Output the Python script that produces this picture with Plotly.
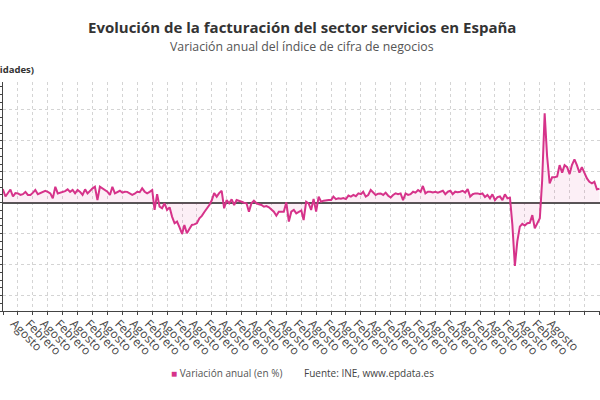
import pandas as pd
import plotly.graph_objects as go

# Annual variation (%) of the services sector turnover index, monthly, Jan 2003 - Feb 2023
v2003 = [7.5, 8.2, 4.0, 6.5, 8.5, 4.0, 6.2, 6.0, 5.0, 5.5, 7.0, 5.0]
v2004 = [5.0, 6.5, 8.2, 5.5, 6.4, 7.3, 7.7, 7.0, 6.0, 2.8, 10.3, 6.0]
v2005 = [6.4, 7.0, 7.5, 8.6, 7.0, 8.2, 6.0, 8.2, 7.0, 5.0, 8.6, 6.0]
v2006 = [8.0, 9.3, 10.3, 1.7, 10.3, 9.3, 8.0, 7.1, 5.0, 10.3, 6.0, 7.0]
v2007 = [7.7, 6.5, 7.1, 7.0, 6.0, 5.0, 5.8, 7.1, 6.8, 9.3, 7.1, 6.0]
v2008 = [7.0, 8.2, -4.7, 5.5, -2.6, -3.6, -0.4, -4.7, -3.0, -9.0, -13.3, -12.2]
v2009 = [-16.0, -20.2, -14.4, -19.7, -17.0, -14.4, -14.0, -13.3, -10.1, -8.5, -6.0, -4.0]
v2010 = [-1.5, 1.7, 6.2, 3.9, 6.2, 7.7, -3.6, 1.7, -0.4, 2.2, -1.5, 1.7]
v2011 = [1.3, 0.6, 0.0, -0.4, -5.8, -0.4, 1.3, -0.4, -1.0, -1.5, -2.6, -2.2]
v2012 = [-3.0, -4.3, -5.8, -8.4, -5.8, -5.8, -5.8, 0.2, -12.2, -5.8, -4.7, -6.9]
v2013 = [-5.8, -5.0, -11.2, 0.6, -0.4, -4.7, 2.4, -5.8, 3.9, 0.6, 1.3, 1.7]
v2014 = [1.7, 1.7, 3.9, 2.3, 2.8, 2.6, 3.0, 2.3, 4.6, 3.9, 5.0, 4.2]
v2015 = [6.0, 5.5, 7.1, 3.9, 5.0, 8.2, 6.5, 5.0, 5.8, 6.0, 5.0, 6.5]
v2016 = [4.5, 3.4, 5.0, 6.0, 5.5, 6.0, 1.7, 6.0, 5.0, 5.5, 7.1, 6.5]
v2017 = [8.2, 7.0, 10.8, 6.0, 7.1, 7.1, 6.6, 7.1, 6.5, 7.1, 7.7, 5.5]
v2018 = [7.1, 7.7, 5.5, 7.1, 6.8, 7.1, 7.7, 6.5, 8.8, 3.9, 5.5, 6.0]
v2019 = [6.0, 5.5, 6.0, 3.6, 5.0, 2.8, 5.4, 1.7, 3.6, 4.0, 1.7, 5.4]
v2020 = [2.8, 3.2, -14.0, -40.8, -25.0, -15.5, -13.7, -14.8, -13.3, -13.0, -8.0, -16.6]
v2021 = [-13.5, -10.0, 14.0, 57.7, 30.0, 12.5, 16.4, 16.4, 17.0, 24.3, 19.4, 24.3]
v2022 = [23.0, 18.5, 24.3, 28.0, 24.3, 19.4, 23.0, 19.4, 15.7, 13.5, 12.5, 13.5]
v2023 = [8.6, 9.0]

tick_names = ["Febrero", "Agosto"]

values = (v2003 + v2004 + v2005 + v2006 + v2007 + v2008 + v2009 + v2010 + v2011
          + v2012 + v2013 + v2014 + v2015 + v2016 + v2017 + v2018 + v2019 + v2020
          + v2021 + v2022 + v2023)
dates = pd.date_range("2003-01-01", periods=len(values), freq="MS")

tickvals = pd.date_range("2003-02-01", "2023-02-01", freq="6MS")
ticktext = [tick_names[i % 2] for i in range(len(tickvals))]

LINE = "#d6338a"
W, H = 600, 400
ML, MR, MT, MB = 3, 0, 82, 89
PW, PH = W - ML - MR, H - MT - MB


def px_x(p):
    return (p - ML) / PW


def px_y(p):
    return (H - MB - p) / PH


fig = go.Figure(go.Scatter(
    x=dates, y=values, mode="lines",
    line=dict(color=LINE, width=2),
    fill="tozeroy", fillcolor="rgba(214,51,138,0.08)",
    name="Variación anual (en %)",
))

grid = dict(showgrid=True, gridcolor="#d4d4d4", griddash="dot", gridwidth=1)

fig.update_layout(
    width=W, height=H,
    margin=dict(l=ML, r=MR, t=MT, b=MB),
    paper_bgcolor="white", plot_bgcolor="white",
    showlegend=False,
    font=dict(family="Open Sans", color="#555"),
    xaxis=dict(
        type="date", range=["2003-01-30", "2023-02-08"],
        tickvals=list(tickvals), ticktext=ticktext, tickangle=45,
        tickfont=dict(size=12, color="#444"),
        ticklabelshift=-4, ticklabelstandoff=-3,
        showline=True, linecolor="#444", linewidth=1,
        ticks="outside", ticklen=3, tickcolor="#444",
        zeroline=False, automargin=False, **grid,
    ),
    yaxis=dict(
        range=[-70, 78], tick0=0, dtick=20,
        showticklabels=False, automargin=False,
        showline=True, linecolor="#444", linewidth=1,
        ticks="outside", ticklen=3, tickcolor="#444",
        minor=dict(dtick=5, ticks="outside", ticklen=2, tickcolor="#444", showgrid=False),
        zeroline=True, zerolinecolor="#555", zerolinewidth=1.5,
        **grid,
    ),
    annotations=[
        dict(text="<b>Evolución de la facturación del sector servicios en España</b>",
             xref="paper", yref="paper", x=0.5, y=px_y(27), xanchor="center", yanchor="middle",
             showarrow=False, font=dict(size=15, color="#333")),
        dict(text="Variación anual del índice de cifra de negocios",
             xref="paper", yref="paper", x=0.5, y=px_y(47), xanchor="center", yanchor="middle",
             showarrow=False, font=dict(size=12.3, color="#555")),
        dict(text="<b>(En unidades)</b>",
             xref="paper", yref="paper", x=px_x(36), y=px_y(69), xanchor="right", yanchor="middle",
             showarrow=False, font=dict(size=9.5, color="#333")),
        dict(text="<span style='color:%s'>■</span> Variación anual (en %%)" % LINE,
             xref="paper", yref="paper", x=px_x(169), y=px_y(373), xanchor="left", yanchor="middle",
             showarrow=False, font=dict(size=10, color="#555")),
        dict(text="Fuente: INE, www.epdata.es",
             xref="paper", yref="paper", x=px_x(302), y=px_y(373), xanchor="left", yanchor="middle",
             showarrow=False, font=dict(size=10, color="#444")),
    ],
)

fig.write_html("out.html", config={"displayModeBar": False},
               post_script="document.body.style.margin='0';document.body.style.overflow='hidden';")
